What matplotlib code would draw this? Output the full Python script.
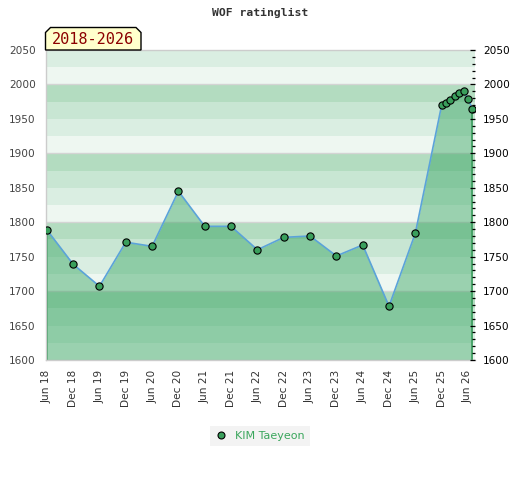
import numpy as np
import pandas as pd
import matplotlib
matplotlib.use("Agg")
import matplotlib.pyplot as plt
from matplotlib.lines import Line2D
from matplotlib.patches import Polygon

# ---- data ----
dates = ["2018-06", "2018-12", "2019-06", "2019-12", "2020-06", "2020-12",
         "2021-06", "2021-12", "2022-06", "2022-12", "2023-06", "2023-12",
         "2024-06", "2024-12", "2025-06", "2025-12", "2026-01", "2026-02",
         "2026-03", "2026-04", "2026-05", "2026-06", "2026-07"]
ratings = [1789, 1739, 1707, 1771, 1765, 1845, 1794, 1794, 1760, 1778,
           1780, 1751, 1767, 1678, 1784, 1970, 1973, 1977, 1983, 1988,
           1990, 1979, 1965]
tick_labels = ["Jun 18", "Dec 18", "Jun 19", "Dec 19", "Jun 20", "Dec 20",
               "Jun 21", "Dec 21", "Jun 22", "Dec 22", "Jun 23", "Dec 23",
               "Jun 24", "Dec 24", "Jun 25", "Dec 25", "Jun 26"]
player = "KIM Taeyeon"
title = "WOF ratinglist"
period = "2018-2026"
y_min, y_max = 1600, 2050

# ---- derived positions (months since first date) ----
per = pd.PeriodIndex(dates, freq="M")
x = np.array([(p - per[0]).n for p in per], dtype=float)
y = np.array(ratings, dtype=float)
tick_pos = np.arange(len(tick_labels)) * 6

W, H = 520, 480
fig = plt.figure(figsize=(W / 100, H / 100), dpi=100)
ax = fig.add_axes([45.5 / W, 1 - 360 / H, (475 - 45.5) / W, 310 / H])

# background bands
band_cols = ["#eef7f1", "#daeee2", "#c8e6d3", "#b3dcc0"]
for b in np.arange(y_min, y_max, 25):
    ax.axhspan(b, b + 25, color=band_cols[int((b % 100) // 25)], lw=0, zorder=0)
for g in np.arange(y_min, y_max + 1, 100):
    ax.axhline(g, color="#d4d4d4", lw=1.0, zorder=0.5)

fill_rgb = (45 / 255, 160 / 255, 90 / 255)
ax.fill_between(x, y, y_min, color=fill_rgb, alpha=0.435, lw=0, zorder=1)
ax.vlines([x[0], x[-1]], y_min, [y[0], y[-1]], color="#3c9c5e", lw=1.2, zorder=1.5)

ax.plot(x, y, color="#5ba3d9", lw=1.2, zorder=2)
ax.plot(x, y, ls="none", marker="o", ms=5.2, mfc="#3a9f5c", mec="black",
        mew=0.8, zorder=3)

ax.set_xlim(-0.3, 97.6)
ax.set_ylim(y_min, y_max)
ax.set_xticks(tick_pos)
ax.set_xticklabels(tick_labels, rotation=90, fontsize=7.6, color="#333333")
ax.set_yticks(np.arange(y_min, y_max + 1, 50))
ax.tick_params(axis="y", length=0, pad=7, labelsize=7.6, labelcolor="#444444")
ax.tick_params(axis="x", length=0, pad=7)
for s in ["left", "bottom", "top"]:
    ax.spines[s].set_color("#cccccc")
    ax.spines[s].set_linewidth(1.0)
ax.spines["right"].set_visible(False)

ax2 = ax.twinx()
ax2.set_ylim(y_min, y_max)
ax2.set_yticks(np.arange(y_min, y_max + 1, 50))
ax2.set_yticks(np.arange(y_min, y_max + 1, 10), minor=True)
ax2.tick_params(axis="y", which="major", direction="in", length=3.5, width=0.9,
                pad=6, labelsize=7.6, labelcolor="black", color="black")
ax2.tick_params(axis="y", which="minor", direction="in", length=2, width=0.9,
                color="black")
for s in ax2.spines.values():
    s.set_visible(False)

# title
fig.text(0.5, 1 - 13 / H, title, ha="center", va="center", fontsize=8.2,
         fontweight="bold", family="DejaVu Sans Mono", color="#333333")

# period box with chamfered top corners
bx0, bx1, by0, by1, c = 45.5, 141, 50, 27.5, 5
pts = [(bx0, by0), (bx0, by1 + c), (bx0 + c, by1), (bx1 - c, by1),
       (bx1, by1 + c), (bx1, by0)]
pts = [(px / W, 1 - py / H) for px, py in pts]
fig.patches.append(Polygon(pts, closed=True, transform=fig.transFigure,
                           facecolor="#ffffcc", edgecolor="black", lw=1.0,
                           zorder=5))
fig.text((bx0 + bx1) / 2 / W, 1 - 39.5 / H, period, ha="center", va="center",
         fontsize=11, family="DejaVu Sans Mono", color="#8b0000", zorder=6)

# legend
h = Line2D([], [], ls="none", marker="o", ms=5, mfc="#3a9f5c", mec="black",
           mew=0.8)
leg = fig.legend([h], [player], loc="center", bbox_to_anchor=(0.5, 1 - 436 / H),
                 frameon=True, fontsize=8, handlelength=1.0, handletextpad=0.8,
                 borderpad=0.45, fancybox=False)
leg.get_frame().set_facecolor("#f0f0f0")
leg.get_frame().set_edgecolor("none")
for t in leg.get_texts():
    t.set_color("#3aa65c")

fig.savefig("out.png", dpi=100)
